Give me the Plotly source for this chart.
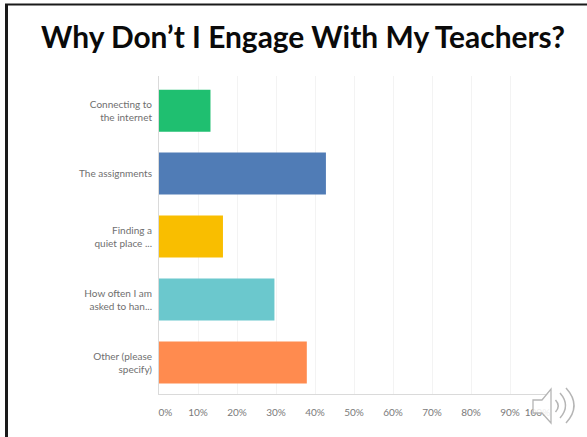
import plotly.graph_objects as go

WIDTH, HEIGHT = 587, 437
LEFT, RIGHT, TOP, BOTTOM = 159, 549, 76, 394

categories = [
    "Connecting to<br>the internet",
    "The assignments",
    "Finding a<br>quiet place ...",
    "How often I am<br>asked to han...",
    "Other (please<br>specify)",
]
responses = [13.2, 42.8, 16.4, 29.6, 37.9]
bar_colors = ["#1FBF70", "#507CB6", "#F9BE00", "#6BC8CD", "#FF8B4F"]
tick_values = [0, 10, 20, 30, 40, 50, 60, 70, 80, 90, 100]
tick_labels = ["\u00a0\u00a0\u00a0\u00a0\u00a00%", "10%", "20%", "30%", "40%", "50%", "60%",
               "70%", "80%", "90%", "100%\u00a0\u00a0\u00a0\u00a0\u00a0\u00a0\u00a0\u00a0\u00a0"]


def px(x):
    return (x - LEFT) / (RIGHT - LEFT)


def py(y):
    return (BOTTOM - y) / (BOTTOM - TOP)


def path(*parts):
    # Each part is a command letter or an (x, y) pixel pair mapped to paper space.
    out = []
    for part in parts:
        out.append(part if isinstance(part, str) else f"{px(part[0]):.5f},{py(part[1]):.5f}")
    return " ".join(out)


fig = go.Figure(
    go.Bar(
        y=categories,
        x=responses,
        orientation="h",
        marker=dict(color=bar_colors, line=dict(width=0)),
        width=0.667,
        hoverinfo="skip",
    )
)

# Speaker icon in the lower right corner, plus the slide's top and left rules.
speaker = path("M", (533, 400), "L", (542, 400), "L", (551, 389), "L", (551, 423),
               "L", (542, 413), "L", (533, 413), "Z")
arcs = [
    path("M", (555.5, 400), "Q", (561, 406), (555.5, 412)),
    path("M", (560, 393), "Q", (571, 405.5), (560, 418)),
    path("M", (566, 388), "Q", (582, 405.5), (566, 423)),
]
shapes = [
    dict(type="path", xref="paper", yref="paper", path=speaker, layer="above",
         fillcolor="rgba(255,255,255,0.85)", line=dict(color="#B5B5B5", width=1.3)),
]
shapes += [
    dict(type="path", xref="paper", yref="paper", path=a, layer="above",
         line=dict(color="#B5B5B5", width=1.5))
    for a in arcs
]
shapes += [
    dict(type="line", xref="paper", yref="paper", x0=px(5), x1=px(587), y0=py(4.5), y1=py(4.5),
         line=dict(color="#1A1A1A", width=2)),
    dict(type="line", xref="paper", yref="paper", x0=px(6.5), x1=px(6.5), y0=py(4), y1=py(437),
         line=dict(color="#1A1A1A", width=3)),
]

fig.update_layout(
    width=WIDTH,
    height=HEIGHT,
    autosize=False,
    margin=dict(l=LEFT, r=WIDTH - RIGHT, t=TOP, b=HEIGHT - BOTTOM, pad=0),
    paper_bgcolor="white",
    plot_bgcolor="white",
    showlegend=False,
    font=dict(family="Lato", color="#6F6F6F", size=10),
    shapes=shapes,
    annotations=[
        dict(text="<b>Why Don\u2019t I Engage With My Teachers?</b>",
             xref="paper", yref="paper", x=px(303), y=py(35.5),
             xanchor="center", yanchor="middle", showarrow=False,
             font=dict(family="Lato", size=29.9, color="#0A0A0A")),
    ],
    xaxis=dict(
        range=[0, 100],
        automargin=False,
        tickangle=0,
        tickmode="array",
        tickvals=tick_values,
        ticktext=tick_labels,
        ticks="",
        ticklabelstandoff=9,
        showgrid=True,
        gridcolor="#F3F3F3",
        gridwidth=1,
        zeroline=False,
        showline=True,
        linecolor="#DADADA",
        linewidth=1,
        tickfont=dict(size=10, color="#7A7A7A"),
    ),
    yaxis=dict(
        automargin=False,
        categoryorder="array",
        categoryarray=categories,
        range=[4.5, -0.55],
        ticks="",
        ticklabelstandoff=4,
        showgrid=False,
        zeroline=False,
        showline=True,
        linecolor="#DADADA",
        linewidth=1,
        tickfont=dict(size=10, color="#6F6F6F"),
    ),
)

fig.write_html("out.html", config=dict(displayModeBar=False))
